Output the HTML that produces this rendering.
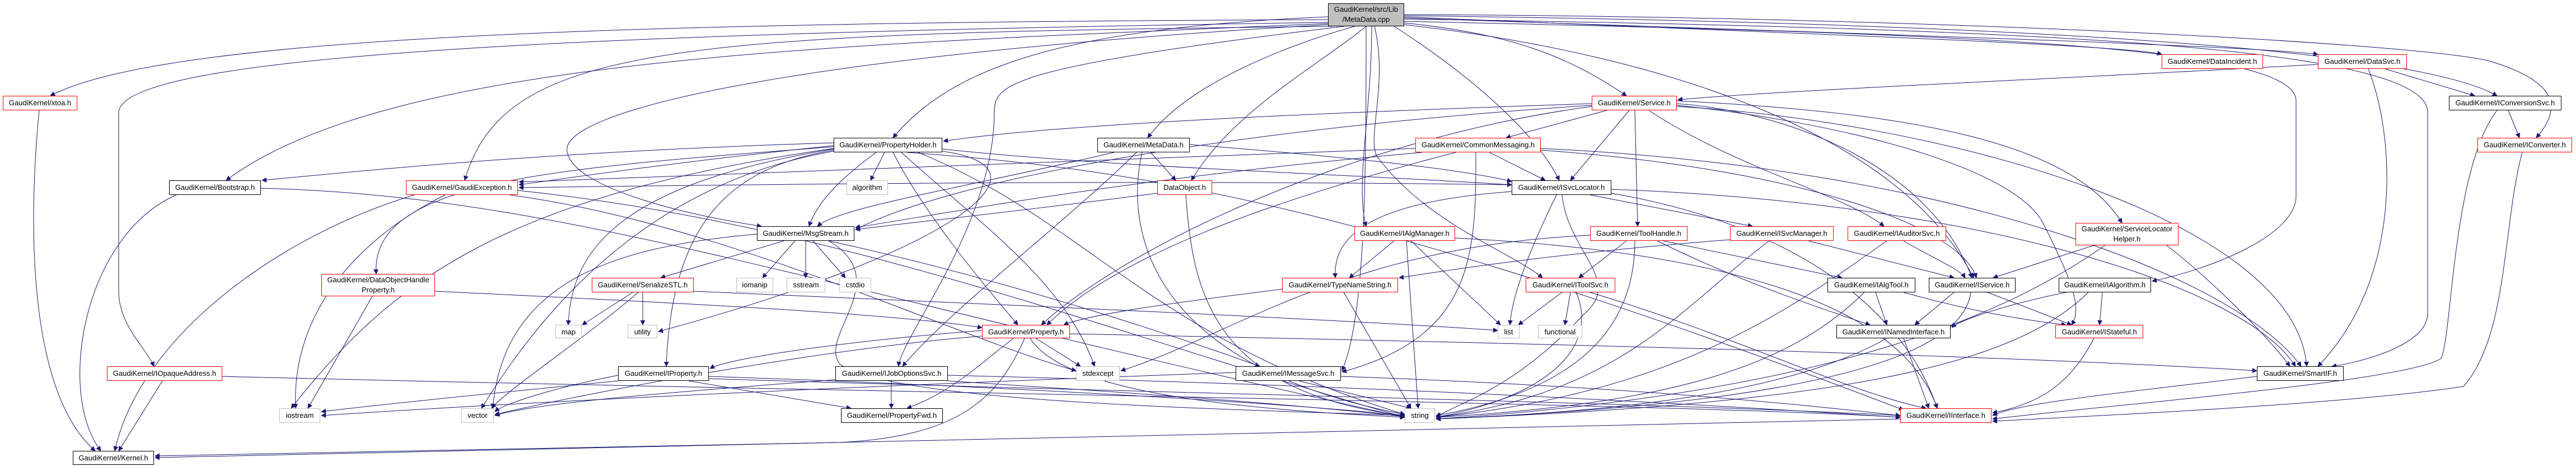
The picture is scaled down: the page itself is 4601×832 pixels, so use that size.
<!DOCTYPE html>
<html><head><meta charset="utf-8"><style>
body{margin:0;width:4601px;height:832px;background:#fff;position:relative;overflow:hidden;font-family:"Liberation Sans",sans-serif}
svg{position:absolute;left:0;top:0}
.n{position:absolute;box-sizing:border-box;background:#fff;border:1.5px solid #000;font-size:13px;line-height:23px;text-align:center;white-space:nowrap;color:#000}
.r{border-color:#f00}.g{border-color:#bfbfbf}
.t{line-height:18px;padding-top:1px}
</style></head><body>
<svg width="4601" height="832" viewBox="0 0 4601 832">
<defs><marker id="a" viewBox="0 0 10 10" refX="9" refY="5" markerWidth="9" markerHeight="9" markerUnits="userSpaceOnUse" orient="auto"><path d="M0,0 L10,5 L0,10 z" fill="#191970"/></marker></defs>
<g fill="none" stroke="#191970" stroke-width="1" marker-end="url(#a)">
<path d="M2372,35 C1200,40 300,60 90,171"/>
<path d="M2372,40 C1000,60 220,100 212,200 L212,520 C212,580 260,620 275,654"/>
<path d="M2372,42 C1500,80 700,100 404,322"/>
<path d="M2380,47 C1200,60 900,80 830,322"/>
<path d="M2372,30 C1900,50 1700,120 1595,246"/>
<path d="M2420,47 C2300,80 2120,150 2050,246"/>
<path d="M2372,44 C1400,100 1000,200 1013,270 C1020,330 1200,380 1360,404"/>
<path d="M2440,47 C2350,120 2200,200 2128,322"/>
<path d="M2400,47 C1800,120 1776,150 1776,200 C1776,400 1610,600 1605,654"/>
<path d="M2440,47 C2440,300 2440,560 2397,662"/>
<path d="M2500,40 C2700,60 2800,100 2905,171"/>
<path d="M2490,47 C2650,150 2750,250 2785,322"/>
<path d="M2450,47 C2450,200 2420,330 2440,404"/>
<path d="M2455,47 C2480,150 2440,250 2460,280 C2550,400 2700,450 2755,496"/>
<path d="M2508,30 C3200,60 3800,80 3861,97"/>
<path d="M2508,32 C3300,60 4000,80 4140,97"/>
<path d="M2508,28 C3500,40 4300,80 4460,171"/>
<path d="M2508,26 C3500,30 4350,80 4450,110 C4580,150 4570,200 4530,246"/>
<path d="M2508,38 C3500,60 4101,80 4101,180 L4101,350 C4101,420 3950,480 3844,502"/>
<path d="M2508,34 C3600,50 4336,80 4336,200 L4336,560 C4336,620 4200,650 4165,654"/>
<path d="M2508,44 C3000,100 3400,250 3525,496"/>
<path d="M1489,255 C1000,270 700,300 468,322"/>
<path d="M1489,260 C1200,290 1000,320 927,330"/>
<path d="M1580,272 L1555,322"/>
<path d="M1565,272 C1500,320 1460,360 1445,404"/>
<path d="M1595,272 C1650,380 1750,500 1818,580"/>
<path d="M1489,268 C1300,300 1200,400 1190,654"/>
<path d="M1489,265 C900,350 700,500 520,729"/>
<path d="M1489,270 C1200,320 1000,500 860,729"/>
<path d="M1489,266 C1100,330 1020,450 1015,580"/>
<path d="M1610,272 C1750,400 1900,500 1955,654"/>
<path d="M1640,272 C1950,400 2050,600 2509,740"/>
<path d="M1620,272 C2000,300 2400,350 3400,732"/>
<path d="M1489,262 C1000,300 660,320 672,489"/>
<path d="M1683,266 C2000,300 2400,310 2700,330"/>
<path d="M1683,270 C1900,300 1700,450 1176,592"/>
<path d="M2055,272 L2100,322"/>
<path d="M2030,272 C1900,400 1700,550 1612,654"/>
<path d="M2040,272 C2010,400 2040,650 2509,740"/>
<path d="M1990,272 C1700,340 1500,370 1460,404"/>
<path d="M2125,258 C2400,280 2600,300 2700,324"/>
<path d="M2118,348 C2130,500 2150,700 2509,742"/>
<path d="M2067,345 C1800,380 1600,400 1528,410"/>
<path d="M740,348 C500,420 250,600 205,805"/>
<path d="M795,348 C650,420 520,550 528,729"/>
<path d="M925,340 C1500,400 2000,600 2509,745"/>
<path d="M910,348 C1300,400 1700,600 1922,662"/>
<path d="M315,348 C150,420 100,700 180,805"/>
<path d="M466,336 C1000,350 1400,500 2509,745"/>
<path d="M70,197 C50,400 50,700 170,805"/>
<path d="M290,680 L212,805"/>
<path d="M397,672 C1500,700 3000,720 3394,745"/>
<path d="M665,529 L550,729"/>
<path d="M777,520 C1200,540 1600,560 1754,585"/>
<path d="M1130,522 L1040,580"/>
<path d="M1140,522 C1050,600 900,700 878,729"/>
<path d="M1148,522 L1148,580"/>
<path d="M1239,520 C1700,540 2400,570 2675,590"/>
<path d="M1104,670 C1000,690 900,720 884,735"/>
<path d="M1104,680 C900,700 700,720 574,735"/>
<path d="M1266,672 C1800,690 2300,720 2509,742"/>
<path d="M1230,680 L1520,729"/>
<path d="M1266,676 C2000,700 3000,720 3394,742"/>
<path d="M1420,430 L1362,496"/>
<path d="M1439,430 L1439,496"/>
<path d="M1452,430 L1510,496"/>
<path d="M1400,430 L1180,496"/>
<path d="M1480,430 C1800,500 2100,600 2250,654"/>
<path d="M1480,430 C1600,500 1460,600 1500,650 C1600,720 2200,730 2509,742"/>
<path d="M1352,418 C1100,440 900,500 880,729"/>
<path d="M1754,590 C1500,610 1300,640 1268,658"/>
<path d="M1810,604 C1750,650 1700,700 1620,729"/>
<path d="M1850,604 L1930,654"/>
<path d="M1840,604 C1900,700 2200,730 2509,745"/>
<path d="M1830,604 C1780,720 1700,780 1500,790 C1000,800 500,810 277,814"/>
<path d="M1911,596 C2600,610 3500,630 4031,662"/>
<path d="M1754,600 C1500,620 1100,690 884,740"/>
<path d="M1592,680 L1592,729"/>
<path d="M1693,680 C2000,700 2300,720 2509,744"/>
<path d="M1693,670 C2500,690 3000,720 3394,745"/>
<path d="M1492,678 C1200,700 950,720 884,742"/>
<path d="M2320,680 L2520,729"/>
<path d="M2395,672 C2900,690 3200,720 3394,742"/>
<path d="M2207,665 C1500,690 900,720 574,742"/>
<path d="M2843,185 C2400,200 1900,220 1685,252"/>
<path d="M2870,197 L2690,246"/>
<path d="M2910,197 L2805,322"/>
<path d="M2920,197 L2925,404"/>
<path d="M2945,197 C3100,300 3300,350 3365,404"/>
<path d="M2995,185 C3200,200 3450,300 3522,496"/>
<path d="M2995,190 C3500,220 4100,400 4120,654"/>
<path d="M2995,180 C3400,200 3700,250 3790,398"/>
<path d="M2995,188 C3300,220 3600,300 3650,400 C3700,500 3720,550 3700,580"/>
<path d="M2843,190 C2400,250 2000,450 1860,580"/>
<path d="M2843,188 C2200,230 1700,320 1528,410"/>
<path d="M2660,272 L2760,322"/>
<path d="M2636,272 C2636,450 2636,600 2397,664"/>
<path d="M2540,272 C2000,320 1700,380 1528,406"/>
<path d="M2528,265 C1800,290 1200,310 927,325"/>
<path d="M2752,265 C3500,300 4000,500 4110,654"/>
<path d="M2752,268 C3200,300 3500,400 3530,496"/>
<path d="M2600,272 C2300,350 2000,450 1870,580"/>
<path d="M2780,348 C2730,450 2700,530 2697,580"/>
<path d="M2790,348 C2800,450 2900,500 2830,560 C2700,700 2600,720 2565,745"/>
<path d="M2878,338 C3500,360 4000,500 4100,654"/>
<path d="M2700,342 C2450,360 2380,420 2385,496"/>
<path d="M2840,348 L3130,404"/>
<path d="M2878,345 C3200,400 3400,550 3460,729"/>
<path d="M2700,330 C2000,320 1300,330 927,335"/>
<path d="M2490,430 L2410,496"/>
<path d="M2520,430 L2680,580"/>
<path d="M2512,430 L2533,729"/>
<path d="M2599,425 C3100,450 3400,550 3460,729"/>
<path d="M2905,430 L2820,496"/>
<path d="M2970,430 L3290,496"/>
<path d="M2960,430 C3100,500 3250,550 3340,580"/>
<path d="M2920,430 C2920,600 2800,700 2565,742"/>
<path d="M2840,420 C2400,440 2200,600 2002,662"/>
<path d="M3230,430 L3490,496"/>
<path d="M3160,430 C3000,550 2900,700 2565,745"/>
<path d="M3090,428 C2800,450 2600,480 2499,496"/>
<path d="M3400,430 C3450,460 3500,480 3510,496"/>
<path d="M3370,430 C3200,550 3000,700 2565,745"/>
<path d="M2400,522 L2520,729"/>
<path d="M2300,515 C2100,540 1950,560 1900,580"/>
<path d="M2790,522 L2712,580"/>
<path d="M2805,522 L2795,580"/>
<path d="M2815,522 C2850,600 2800,700 2565,745"/>
<path d="M2840,522 C3100,600 3300,700 3440,729"/>
<path d="M3350,522 L3370,580"/>
<path d="M3400,522 C3500,550 3600,570 3690,580"/>
<path d="M3330,522 C3200,650 3000,720 2565,745"/>
<path d="M3490,522 L3420,580"/>
<path d="M3550,522 L3700,580"/>
<path d="M3520,522 C3500,680 3000,730 2565,748"/>
<path d="M3400,604 L3445,729"/>
<path d="M3370,604 C3200,700 2900,735 2565,748"/>
<path d="M3740,438 L3560,496"/>
<path d="M3870,438 C3950,500 4050,600 4090,654"/>
<path d="M3760,438 C3600,550 3300,700 2565,748"/>
<path d="M3690,522 C3600,540 3500,570 3486,585"/>
<path d="M3755,522 L3750,580"/>
<path d="M3730,522 C3600,650 3300,720 2565,748"/>
<path d="M3740,604 C3700,680 3650,720 3559,737"/>
<path d="M4031,672 C3800,700 3600,720 3559,742"/>
<path d="M3394,748 C2000,780 800,815 277,817"/>
<path d="M4140,115 C3700,140 3200,160 2997,178"/>
<path d="M4260,123 L4420,171"/>
<path d="M4230,123 C4280,250 4290,500 4140,654"/>
<path d="M4480,197 L4500,246"/>
<path d="M4460,197 C4380,300 4380,600 4360,640 C4300,680 3800,720 3559,748"/>
<path d="M4505,272 C4470,400 4480,600 4400,690 C4200,720 3800,740 3559,752"/>
</g></svg>
<div class="n t" style="left:2372px;top:6px;width:136px;height:41px;background:#bfbfbf">GaudiKernel/src/Lib<br>/MetaData.cpp</div>
<div class="n r" style="left:5px;top:171px;width:133px;height:26px">GaudiKernel/xtoa.h</div>
<div class="n" style="left:302px;top:322px;width:164px;height:26px">GaudiKernel/Bootstrap.h</div>
<div class="n r" style="left:725px;top:322px;width:200px;height:26px">GaudiKernel/GaudiException.h</div>
<div class="n r t" style="left:574px;top:489px;width:203px;height:40px">GaudiKernel/DataObjectHandle<br>Property.h</div>
<div class="n g" style="left:992px;top:580px;width:47px;height:24px">map</div>
<div class="n r" style="left:191px;top:654px;width:206px;height:26px">GaudiKernel/IOpaqueAddress.h</div>
<div class="n g" style="left:499px;top:729px;width:73px;height:26px">iostream</div>
<div class="n g" style="left:824px;top:729px;width:58px;height:26px">vector</div>
<div class="n" style="left:130px;top:805px;width:145px;height:25px">GaudiKernel/Kernel.h</div>
<div class="n r" style="left:1057px;top:496px;width:182px;height:26px">GaudiKernel/SerializeSTL.h</div>
<div class="n g" style="left:1121px;top:580px;width:53px;height:24px">utility</div>
<div class="n" style="left:1104px;top:654px;width:162px;height:26px">GaudiKernel/IProperty.h</div>
<div class="n" style="left:1489px;top:246px;width:194px;height:26px">GaudiKernel/PropertyHolder.h</div>
<div class="n" style="left:1960px;top:246px;width:165px;height:26px">GaudiKernel/MetaData.h</div>
<div class="n g" style="left:1512px;top:322px;width:74px;height:26px">algorithm</div>
<div class="n r" style="left:2067px;top:322px;width:98px;height:26px">DataObject.h</div>
<div class="n" style="left:1352px;top:404px;width:174px;height:26px">GaudiKernel/MsgStream.h</div>
<div class="n g" style="left:1315px;top:496px;width:66px;height:26px">iomanip</div>
<div class="n g" style="left:1405px;top:496px;width:69px;height:26px">sstream</div>
<div class="n g" style="left:1499px;top:496px;width:57px;height:26px">cstdio</div>
<div class="n r" style="left:1754px;top:580px;width:157px;height:24px">GaudiKernel/Property.h</div>
<div class="n" style="left:1492px;top:654px;width:201px;height:26px">GaudiKernel/IJobOptionsSvc.h</div>
<div class="n g" style="left:1922px;top:654px;width:78px;height:26px">stdexcept</div>
<div class="n" style="left:1502px;top:729px;width:182px;height:26px">GaudiKernel/PropertyFwd.h</div>
<div class="n" style="left:2207px;top:654px;width:188px;height:26px">GaudiKernel/IMessageSvc.h</div>
<div class="n r" style="left:2843px;top:171px;width:152px;height:26px">GaudiKernel/Service.h</div>
<div class="n r" style="left:2528px;top:246px;width:224px;height:26px">GaudiKernel/CommonMessaging.h</div>
<div class="n" style="left:2700px;top:322px;width:178px;height:26px">GaudiKernel/ISvcLocator.h</div>
<div class="n r" style="left:2419px;top:404px;width:180px;height:26px">GaudiKernel/IAlgManager.h</div>
<div class="n r" style="left:2840px;top:404px;width:174px;height:26px">GaudiKernel/ToolHandle.h</div>
<div class="n r" style="left:3090px;top:404px;width:185px;height:26px">GaudiKernel/ISvcManager.h</div>
<div class="n r" style="left:3300px;top:404px;width:176px;height:26px">GaudiKernel/IAuditorSvc.h</div>
<div class="n r" style="left:2290px;top:496px;width:207px;height:26px">GaudiKernel/TypeNameString.h</div>
<div class="n r" style="left:2725px;top:496px;width:160px;height:26px">GaudiKernel/IToolSvc.h</div>
<div class="n" style="left:3264px;top:496px;width:157px;height:26px">GaudiKernel/IAlgTool.h</div>
<div class="n" style="left:3445px;top:496px;width:155px;height:26px">GaudiKernel/IService.h</div>
<div class="n g" style="left:2675px;top:580px;width:39px;height:24px">list</div>
<div class="n g" style="left:2747px;top:580px;width:79px;height:24px">functional</div>
<div class="n" style="left:3280px;top:580px;width:204px;height:24px">GaudiKernel/INamedInterface.h</div>
<div class="n g" style="left:2509px;top:729px;width:54px;height:26px">string</div>
<div class="n r" style="left:3394px;top:729px;width:163px;height:26px">GaudiKernel/IInterface.h</div>
<div class="n r" style="left:3861px;top:97px;width:181px;height:26px">GaudiKernel/DataIncident.h</div>
<div class="n r" style="left:4140px;top:97px;width:159px;height:26px">GaudiKernel/DataSvc.h</div>
<div class="n" style="left:4374px;top:171px;width:201px;height:26px">GaudiKernel/IConversionSvc.h</div>
<div class="n r" style="left:4425px;top:246px;width:169px;height:26px">GaudiKernel/IConverter.h</div>
<div class="n r t" style="left:3707px;top:398px;width:184px;height:40px">GaudiKernel/ServiceLocator<br>Helper.h</div>
<div class="n" style="left:3677px;top:496px;width:165px;height:26px">GaudiKernel/IAlgorithm.h</div>
<div class="n r" style="left:3671px;top:580px;width:157px;height:24px">GaudiKernel/IStateful.h</div>
<div class="n" style="left:4031px;top:654px;width:155px;height:26px">GaudiKernel/SmartIF.h</div>
</body></html>
